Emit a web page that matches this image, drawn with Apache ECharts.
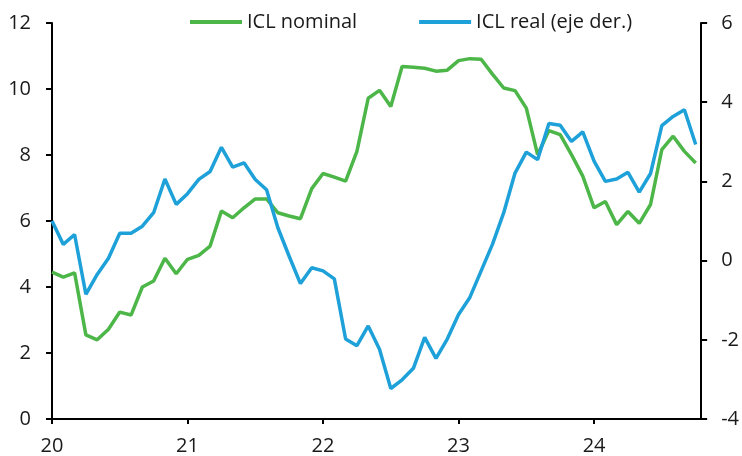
<!DOCTYPE html>
<html>
<head>
<meta charset="utf-8">
<script src="https://cdn.jsdelivr.net/npm/echarts@6/dist/echarts.min.js"></script>
<style>
  html, body { margin: 0; padding: 0; background: #fff; }
  #chart { width: 742px; height: 456px; }
</style>
</head>
<body>
<div id="chart"></div>
<script>
// meses desde ene-2020 (x en años: 20 = 2020)
var yearTicks = [20, 21, 22, 23, 24];

// ICL nominal (eje izq.)
var iclNominal = [
  4.45, 4.3, 4.43, 2.55, 2.4, 2.72, 3.24, 3.15, 4.0, 4.18, 4.87, 4.4,
  4.84, 4.96, 5.24, 6.3, 6.1, 6.4, 6.67, 6.67, 6.25, 6.15, 6.07, 6.98,
  7.44, 7.33, 7.21, 8.11, 9.72, 9.96, 9.47, 10.68, 10.66, 10.63, 10.54, 10.57,
  10.86, 10.92, 10.9, 10.45, 10.03, 9.95, 9.42, 8.01, 8.74, 8.62, 8.01, 7.36,
  6.4, 6.59, 5.89, 6.29, 5.93, 6.5, 8.16, 8.57, 8.11, 7.76
];

// ICL real (eje der.)
var iclReal = [
  1.0, 0.41, 0.66, -0.85, -0.35, 0.06, 0.69, 0.69, 0.87, 1.21, 2.06, 1.42,
  1.69, 2.05, 2.25, 2.86, 2.36, 2.47, 2.05, 1.79, 0.83, 0.11, -0.58, -0.18,
  -0.26, -0.46, -1.98, -2.15, -1.65, -2.24, -3.23, -3.01, -2.72, -1.94, -2.47, -1.98,
  -1.36, -0.93, -0.26, 0.41, 1.21, 2.21, 2.74, 2.55, 3.46, 3.42, 3.01, 3.25,
  2.51, 2.0, 2.06, 2.23, 1.73, 2.2, 3.41, 3.64, 3.81, 2.93
];

function toPoints(arr) {
  return arr.map(function (v, i) { return [20 + i / 12, v]; });
}

var font = 'Open Sans';
var txt = '#1a1a1a';

var chart = echarts.init(document.getElementById('chart'));
chart.setOption({
  animation: false,
  textStyle: { fontFamily: font },
  grid: { left: 52, right: 39, top: 23, bottom: 36 },
  legend: {
    left: 190,
    top: 12,
    padding: 0,
    itemWidth: 52,
    itemHeight: 4,
    itemGap: 62,
    icon: 'rect',
    textStyle: { fontFamily: font, fontSize: 20, color: txt },
    data: ['ICL nominal', 'ICL real (eje der.)']
  },
  xAxis: {
    type: 'value',
    min: 20,
    max: 24.79,
    splitLine: { show: false },
    axisLine: { lineStyle: { color: '#000', width: 2 } },
    axisTick: { show: true, length: 5, lineStyle: { color: '#000', width: 2 }, customValues: yearTicks },
    axisLabel: { fontSize: 20, color: txt, margin: 17, customValues: yearTicks, formatter: function (v) { return String(v); } }
  },
  yAxis: [
    {
      type: 'value',
      min: 0, max: 12, interval: 2,
      splitLine: { show: false },
      axisLine: { show: true, lineStyle: { color: '#000', width: 2 } },
      axisTick: { show: true, length: 6, lineStyle: { color: '#000', width: 2 } },
      axisLabel: { fontSize: 20, color: txt, margin: 21 }
    },
    {
      type: 'value',
      min: -4, max: 6, interval: 2,
      position: 'right',
      splitLine: { show: false },
      axisLine: { show: true, lineStyle: { color: '#000', width: 2 } },
      axisTick: { show: true, length: 6, lineStyle: { color: '#000', width: 2 } },
      axisLabel: { fontSize: 20, color: txt, margin: 20 }
    }
  ],
  series: [
    {
      name: 'ICL nominal',
      type: 'line',
      yAxisIndex: 0,
      data: toPoints(iclNominal),
      showSymbol: false,
      itemStyle: { color: '#4cb648' },
      lineStyle: { color: '#4cb648', width: 3.5 }
    },
    {
      name: 'ICL real (eje der.)',
      type: 'line',
      yAxisIndex: 1,
      data: toPoints(iclReal),
      showSymbol: false,
      itemStyle: { color: '#1ea1d9' },
      lineStyle: { color: '#1ea1d9', width: 3.5 }
    }
  ]
});
</script>
</body>
</html>
